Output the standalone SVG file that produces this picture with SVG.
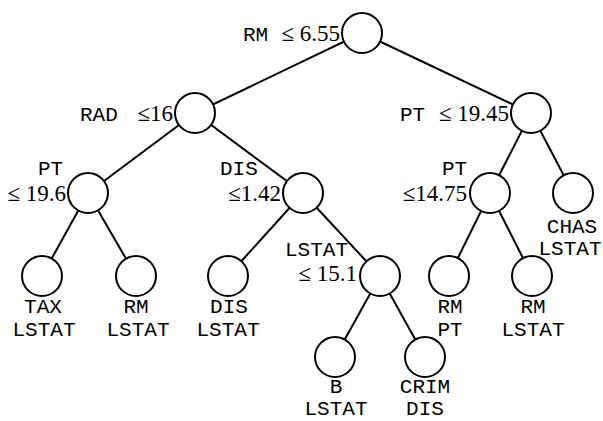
<svg xmlns="http://www.w3.org/2000/svg" width="603" height="421" viewBox="0 0 603 421">
<style>
.n{fill:#fff;stroke:#000;stroke-width:2}
.e{stroke:#000;stroke-width:2;fill:none}
.m{font-family:"Liberation Mono","Courier New",monospace;font-size:21px;fill:#000}
.s{font-family:"Liberation Serif","Times New Roman",serif;font-size:23px;fill:#000}
.c{text-anchor:middle}
.r{text-anchor:end}
</style>
<rect width="603" height="421" fill="#fff"/>
<g id="edges">
<line class="e" x1="362" y1="33" x2="195" y2="113"/>
<line class="e" x1="362" y1="33" x2="531" y2="113"/>
<line class="e" x1="195" y1="113" x2="88" y2="193"/>
<line class="e" x1="195" y1="113" x2="303" y2="193"/>
<line class="e" x1="531" y1="113" x2="490" y2="193"/>
<line class="e" x1="531" y1="113" x2="573" y2="193"/>
<line class="e" x1="88" y1="193" x2="42" y2="276"/>
<line class="e" x1="88" y1="193" x2="136" y2="276"/>
<line class="e" x1="303" y1="193" x2="228" y2="276"/>
<line class="e" x1="303" y1="193" x2="380" y2="276"/>
<line class="e" x1="490" y1="193" x2="449" y2="276"/>
<line class="e" x1="490" y1="193" x2="532" y2="276"/>
<line class="e" x1="380" y1="276" x2="335" y2="357"/>
<line class="e" x1="380" y1="276" x2="425" y2="357"/>
</g>
<g id="root"><circle class="n" cx="362" cy="33" r="20"/>
<text class="m" x="243" y="41">RM</text>
<text class="s r" x="340" y="41">≤ 6.55</text></g>
<g id="rad"><circle class="n" cx="195" cy="113" r="20"/>
<text class="m" x="80" y="121">RAD</text>
<text class="s r" x="173" y="121">≤16</text></g>
<g id="ptr"><circle class="n" cx="531" cy="113" r="20"/>
<text class="m" x="400" y="121">PT</text>
<text class="s r" x="509" y="121">≤ 19.45</text></g>
<g id="ptl"><circle class="n" cx="88" cy="193" r="20"/>
<text class="m" x="38" y="175">PT</text>
<text class="s r" x="66" y="201">≤ 19.6</text></g>
<g id="dis"><circle class="n" cx="303" cy="193" r="20"/>
<text class="m" x="220" y="175">DIS</text>
<text class="s r" x="281" y="201">≤1.42</text></g>
<g id="pt14"><circle class="n" cx="490" cy="193" r="20"/>
<text class="m" x="442" y="175">PT</text>
<text class="s r" x="467" y="201">≤14.75</text></g>
<g id="chas"><circle class="n" cx="573" cy="193" r="20"/>
<text class="m c" x="572" y="233">CHAS</text>
<text class="m c" x="570" y="255">LSTAT</text></g>
<g id="tax"><circle class="n" cx="42" cy="276" r="20"/>
<text class="m c" x="43" y="313">TAX</text>
<text class="m c" x="44" y="336">LSTAT</text></g>
<g id="rm1"><circle class="n" cx="136" cy="276" r="20"/>
<text class="m c" x="136" y="313">RM</text>
<text class="m c" x="138" y="336">LSTAT</text></g>
<g id="dis2"><circle class="n" cx="228" cy="276" r="20"/>
<text class="m c" x="229" y="313">DIS</text>
<text class="m c" x="228" y="336">LSTAT</text></g>
<g id="ls15"><circle class="n" cx="380" cy="276" r="20"/>
<text class="m r" x="348" y="256">LSTAT</text>
<text class="s r" x="357" y="281">≤ 15.1</text></g>
<g id="rmpt"><circle class="n" cx="449" cy="276" r="20"/>
<text class="m c" x="450" y="313">RM</text>
<text class="m c" x="450" y="336">PT</text></g>
<g id="rmls"><circle class="n" cx="532" cy="276" r="20"/>
<text class="m c" x="533" y="313">RM</text>
<text class="m c" x="533" y="336">LSTAT</text></g>
<g id="b"><circle class="n" cx="335" cy="357" r="20"/>
<text class="m c" x="336" y="393">B</text>
<text class="m c" x="336" y="415">LSTAT</text></g>
<g id="crim"><circle class="n" cx="425" cy="357" r="20"/>
<text class="m c" x="425" y="393">CRIM</text>
<text class="m c" x="425" y="415">DIS</text></g>
</svg>
